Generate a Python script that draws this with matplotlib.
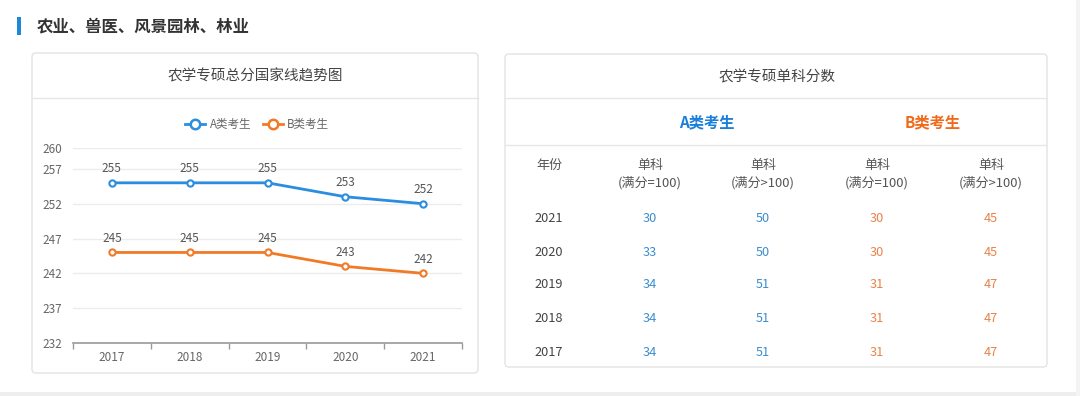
import matplotlib
matplotlib.use("Agg")
import matplotlib.pyplot as plt
from matplotlib.patches import FancyBboxPatch, Rectangle
from matplotlib.lines import Line2D

plt.rcParams['font.family'] = ['Noto Sans CJK SC', 'DejaVu Sans']

# ---- data ----
years = ["2017", "2018", "2019", "2020", "2021"]
scores_a = [255, 255, 255, 253, 252]
scores_b = [245, 245, 245, 243, 242]
y_ticks = [232, 237, 242, 247, 252, 257, 260]

table_years = ["2021", "2020", "2019", "2018", "2017"]
a_single_100 = [30, 33, 34, 34, 34]
a_single_gt100 = [50, 50, 51, 51, 51]
b_single_100 = [30, 30, 31, 31, 31]
b_single_gt100 = [45, 45, 47, 47, 47]
col_headers = ["单科\n(满分=100)", "单科\n(满分>100)", "单科\n(满分=100)", "单科\n(满分>100)"]

page_title = "农业、兽医、风景园林、林业"
chart_title = "农学专硕总分国家线趋势图"
table_title = "农学专硕单科分数"
series_names = ["A类考生", "B类考生"]

BLUE = "#2b8de0"
ORANGE = "#f07a26"
TXT = "#333333"
GRAY = "#666666"

W, H = 1080, 396
fig = plt.figure(figsize=(W / 100, H / 100), dpi=100)
fig.patch.set_facecolor("white")

# overlay axes in pixel coordinates
ov = fig.add_axes([0, 0, 1, 1])
ov.set_xlim(0, W)
ov.set_ylim(H, 0)
ov.axis("off")

# page strips
ov.add_patch(Rectangle((0, 392), W, 4, facecolor="#eeeeee", edgecolor="none"))
ov.add_patch(Rectangle((1076, 0), 4, H, facecolor="#f4f4f4", edgecolor="none"))

# page header
ov.add_patch(Rectangle((17, 17), 4, 18, facecolor="#1e88d8", edgecolor="none"))
ov.text(37, 26, page_title, fontsize=11.8, fontweight="bold", color=TXT,
        ha="left", va="center")

# cards
def card(x0, y0, x1, y1):
    ov.add_patch(FancyBboxPatch((x0, y0), x1 - x0, y1 - y0,
                                boxstyle="round,pad=0,rounding_size=4",
                                facecolor="white", edgecolor="#e3e3e3", lw=1))

card(32, 53, 478, 373)
card(505, 54, 1047, 367)

# left card header
ov.text(255, 76, chart_title, fontsize=10.5, color="#444444", ha="center", va="center")
ov.add_line(Line2D([32, 478], [98, 98], color="#e6e6e6", lw=1))

# legend
for (cx, tx), name, col in zip([(195, 210), (273, 287)], series_names, [BLUE, ORANGE]):
    ov.add_line(Line2D([cx - 10, cx + 10], [124, 124], color=col, lw=2))
    ov.plot([cx], [124], marker="o", ms=6.8, mfc="white", mec=col, mew=1.8)
    ov.text(tx, 124.5, name, fontsize=8.3, color=GRAY, ha="left", va="center")

# right card header
ov.text(777, 77, table_title, fontsize=10.5, color="#444444", ha="center", va="center")
ov.add_line(Line2D([505, 1047], [98, 98], color="#e6e6e6", lw=1))
ov.text(707, 122, series_names[0], fontsize=11, fontweight="bold", color="#1a7fd8",
        ha="center", va="center")
ov.text(933, 122, series_names[1], fontsize=11, fontweight="bold", color="#f06a1a",
        ha="center", va="center")
ov.add_line(Line2D([505, 1047], [144.5, 144.5], color="#e6e6e6", lw=1))

# table
year_x = 549
col_x = [650, 763, 877, 991]
ov.text(year_x, 165, "年份", fontsize=9.4, color="#555555", ha="center", va="center")
for cx, hdr in zip(col_x, col_headers):
    top, bot = hdr.split("\n")
    ov.text(cx, 165, top, fontsize=9.4, color="#555555", ha="center", va="center")
    ov.text(cx, 183, bot, fontsize=9.4, color="#555555", ha="center", va="center")

row_y = [218, 252, 285, 318, 352]
cols = [a_single_100, a_single_gt100, b_single_100, b_single_gt100]
col_colors = ["#3c8dd0", "#3c8dd0", "#e8834a", "#e8834a"]
for i, yr in enumerate(table_years):
    ov.text(year_x, row_y[i], yr, fontsize=9.2, color="#444444", ha="center", va="center")
    for cx, vals, cc in zip(col_x, cols, col_colors):
        ov.text(cx, row_y[i], str(vals[i]), fontsize=9.2, color=cc, ha="center", va="center")

# ---- line chart ----
ax_l, ax_r, ax_t, ax_b = 73, 462, 148, 343
ax = fig.add_axes([ax_l / W, (H - ax_b) / H, (ax_r - ax_l) / W, (ax_b - ax_t) / H])
ax.set_facecolor("none")
xs = list(range(len(years)))
ax.set_xlim(-0.5, len(years) - 0.5)
ax.set_ylim(min(y_ticks), max(y_ticks))
ax.set_yticks(y_ticks)
ax.set_yticklabels([str(t) for t in y_ticks])
ax.grid(axis="y", color="#ececec", lw=1)
ax.set_axisbelow(True)
for s in ["top", "right", "left"]:
    ax.spines[s].set_visible(False)
ax.spines["bottom"].set_color("#999999")
ax.spines["bottom"].set_linewidth(1.2)
ax.tick_params(axis="y", length=0, labelsize=8.5, labelcolor=GRAY, pad=8)
ax.set_xticks([x - 0.5 for x in range(len(years) + 1)])
ax.set_xticklabels([])
ax.tick_params(axis="x", which="major", length=4, color="#999999", width=1)
ax.set_xticks(xs, minor=True)
ax.set_xticklabels(years, minor=True)
ax.tick_params(axis="x", which="minor", length=0, labelsize=8.5, labelcolor=GRAY, pad=6)

for vals, col in [(scores_a, BLUE), (scores_b, ORANGE)]:
    ax.plot(xs, vals, color=col, lw=2, marker="o", ms=4.5, mfc="white",
            mec=col, mew=1.5, clip_on=False, zorder=3)
    for x, v in zip(xs, vals):
        ax.annotate(str(v), (x, v), xytext=(0, 5.5), textcoords="offset points",
                    ha="center", va="bottom", fontsize=8.5, color="#555555")

fig.savefig("out.png", dpi=100, facecolor="white")
